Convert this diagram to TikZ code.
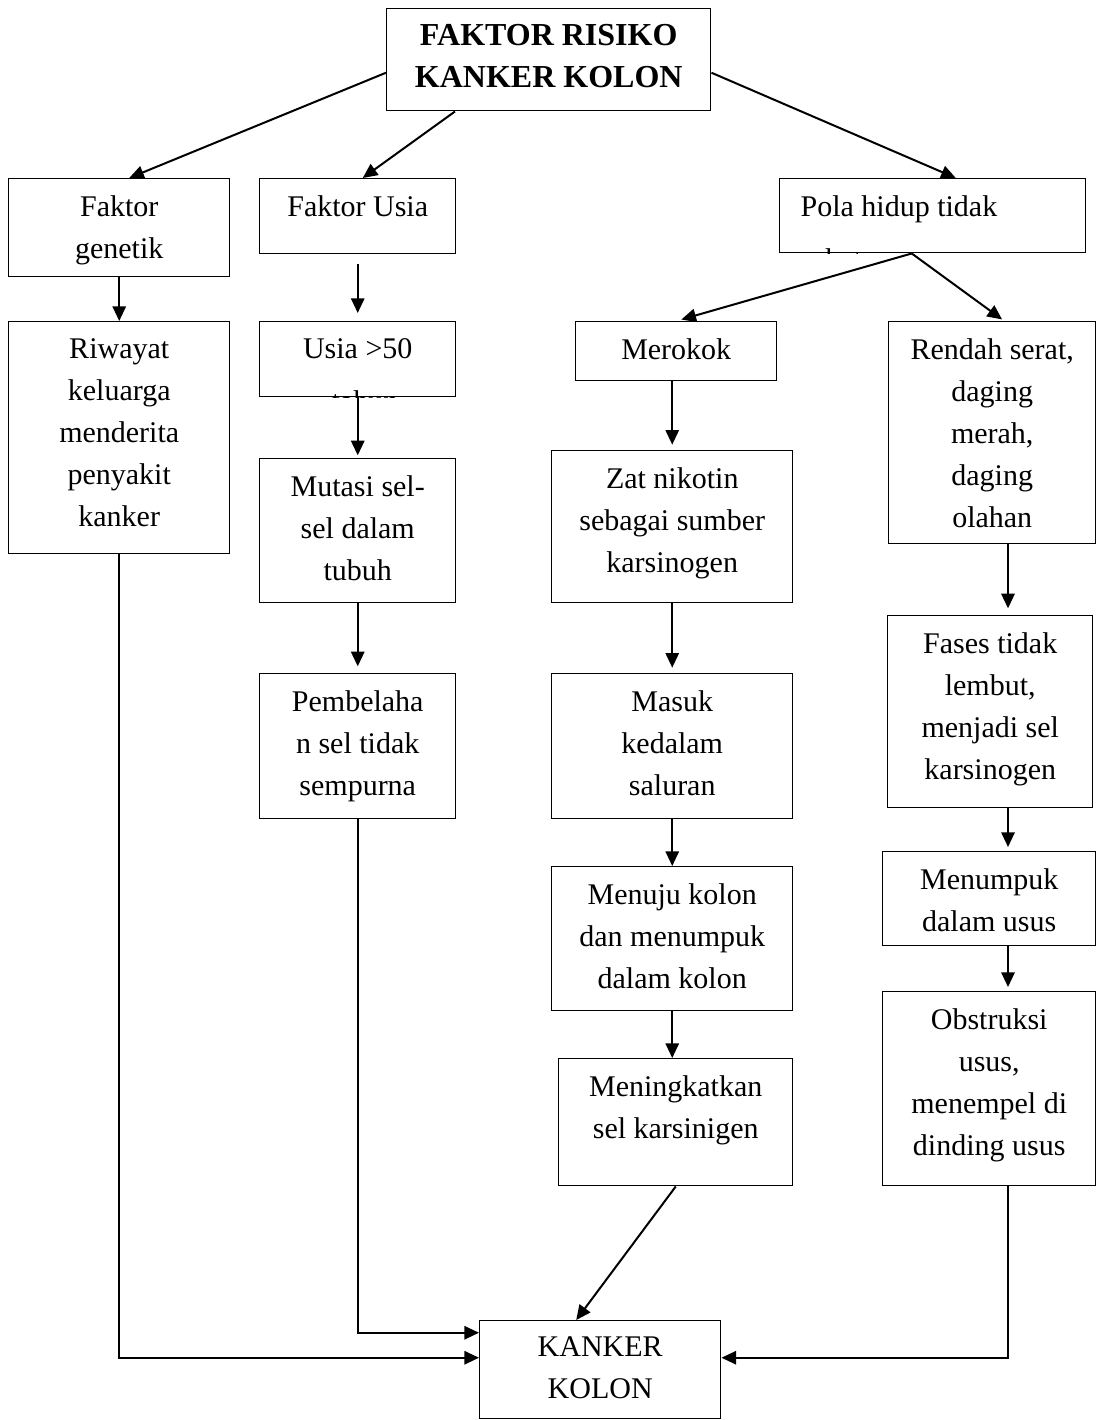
\documentclass[tikz,border=0pt]{standalone}
\usepackage{fontspec}
\setmainfont{Liberation Serif}
\usetikzlibrary{positioning,calc,arrows.meta}

\tikzset{
  kotak/.style 2 args={draw, line width=1.1pt, inner sep=0pt, anchor=north west,
    minimum width=#1*0.75pt, minimum height=#2*0.75pt},
  isi/.style={font=\fontsize{22.5}{31.5}\selectfont, align=center, inner sep=0pt},
  judul/.style={font=\fontsize{24}{31.5}\selectfont\bfseries, align=center, inner sep=0pt},
  panah/.style={line width=1.5pt, -{Triangle[length=11pt,width=10pt]}},
  garis/.style={line width=1.5pt}
}

\begin{document}
\begin{tikzpicture}[x=0.75pt, y=-0.75pt]
   \useasboundingbox (0,0) rectangle (1097,1420);

   % kotak-kotak
   \node[kotak={324}{102}] (atas) at (386,8) {};
   \node[kotak={221}{98}] (genetik) at (8,178) {};
   \node[kotak={196}{75}] (fusia) at (259,178) {};
   \node[kotak={306}{74}] (pola) at (779,178) {};
   \node[kotak={221}{232}] (riwayat) at (8,321) {};
   \node[kotak={196}{75}] (usia50) at (259,321) {};
   \node[kotak={201}{59}] (merokok) at (575,321) {};
   \node[kotak={207}{222}] (rendah) at (888,321) {};
   \node[kotak={196}{144}] (mutasi) at (259,458) {};
   \node[kotak={241}{152}] (nikotin) at (551,450) {};
   \node[kotak={205}{192}] (fases) at (887,615) {};
   \node[kotak={196}{145}] (pembelahan) at (259,673) {};
   \node[kotak={241}{145}] (masuk) at (551,673) {};
   \node[kotak={241}{144}] (menuju) at (551,866) {};
   \node[kotak={213}{94}] (menumpuk) at (882,851) {};
   \node[kotak={234}{127}] (meningkat) at (558,1058) {};
   \node[kotak={213}{194}] (obstruksi) at (882,991) {};
   \node[kotak={241}{98}] (kanker) at (479,1320) {};

   % isi kotak
   \node[judul, below=12pt of atas.north] (atas-isi) {FAKTOR RISIKO\\KANKER KOLON};
   \node[isi, below=13pt of genetik.north] (genetik-isi) {Faktor\\genetik};
   \node[isi, below=13pt of fusia.north] (fusia-isi) {Faktor Usia};
   \node[isi, below right=13pt and 16pt of pola.north west] (pola-isi) {Pola hidup tidak};
   \node[isi, below=13pt of riwayat.north] (riwayat-isi) {Riwayat\\keluarga\\menderita\\penyakit\\kanker};
   \node[isi, below=13pt of usia50.north] (usia50-isi) {Usia >50};
   \node[isi, below=13pt of merokok.north] (merokok-isi) {Merokok};
   \node[isi, below=13pt of rendah.north] (rendah-isi) {Rendah serat,\\daging\\merah,\\daging\\olahan};
   \node[isi, below=13pt of mutasi.north] (mutasi-isi) {Mutasi sel-\\sel dalam\\tubuh};
   \node[isi, below=13pt of nikotin.north] (nikotin-isi) {Zat nikotin\\sebagai sumber\\karsinogen};
   \node[isi, below=13pt of fases.north] (fases-isi) {Fases tidak\\lembut,\\menjadi sel\\karsinogen};
   \node[isi, below=13pt of pembelahan.north] (pembelahan-isi) {Pembelaha\\n sel tidak\\sempurna};
   \node[isi, below=13pt of masuk.north] (masuk-isi) {Masuk\\kedalam\\saluran};
   \node[isi, below=13pt of menuju.north] (menuju-isi) {Menuju kolon\\dan menumpuk\\dalam kolon};
   \node[isi, below=13pt of menumpuk.north] (menumpuk-isi) {Menumpuk\\dalam usus};
   \node[isi, below=13pt of meningkat.north] (meningkat-isi) {Meningkatkan\\sel karsinigen};
   \node[isi, below=13pt of obstruksi.north] (obstruksi-isi) {Obstruksi\\usus,\\menempel di\\dinding usus};
   \node[isi, below=12pt of kanker.north] (kanker-isi) {KANKER\\KOLON};

   % baris kedua yang terpotong
   \begin{scope}
    \clip (pola.south west) rectangle (pola.north east);
    \node[isi, anchor=base west] (pola-isi2) at (800,269) {sehat};
   \end{scope}
   \begin{scope}
    \clip (usia50.south west) rectangle (usia50.north east);
    \node[isi, anchor=base] (usia50-isi2) at (365,411) {tahun};
   \end{scope}

   % panah
   \coordinate (kanan) at (1008,0);
   \draw[panah] ($(atas.west)+(0,13)$) -- ($(genetik.north)+(10,0)$);
   \draw[panah] ($(atas.south west)+(69,0)$) -- ($(fusia.north)+(5,0)$);
   \draw[panah] ($(atas.east)+(0,13)$) -- ($(pola.north)+(23,0)$);
   \draw[panah] (genetik.south) -- (riwayat.north);
   \draw[panah, shorten <=7pt, shorten >=6pt] (fusia.south) -- (usia50.north);
   \draw[panah, shorten >=4pt] ($(pola.south)+(-21,0)$) -- (merokok.north);
   \draw[panah, shorten >=2pt] ($(pola.south)+(-21,0)$) -- ($(rendah.north)+(12,0)$);
   \draw[panah, shorten >=2pt] (usia50.south) -- (mutasi.north);
   \draw[panah, shorten >=5pt] (mutasi.south) -- (pembelahan.north);
   \draw[panah, shorten >=4pt] (merokok.south -| nikotin.north) -- (nikotin.north);
   \draw[panah, shorten >=4pt] (nikotin.south) -- (masuk.north);
   \draw[panah] (masuk.south) -- (menuju.north);
   \draw[panah] (menuju.south) -- (menuju.south |- meningkat.north);
   \draw[panah] (meningkat.south) -- ($(kanker.north)+(-24,0)$);
   \draw[panah, shorten >=5pt] (rendah.south -| kanan) -- (fases.north -| kanan);
   \draw[panah, shorten >=3pt] (fases.south -| kanan) -- (menumpuk.north -| kanan);
   \draw[panah, shorten >=3pt] (menumpuk.south -| kanan) -- (obstruksi.north -| kanan);
   \draw[panah] (riwayat.south) |- ($(kanker.west)+(0,-12)$);
   \draw[panah] (pembelahan.south) |- ($(kanker.west)+(0,-37)$);
   \draw[panah] (obstruksi.south -| kanan) |- ($(kanker.east)+(0,-12)$);
\end{tikzpicture}
\end{document}
